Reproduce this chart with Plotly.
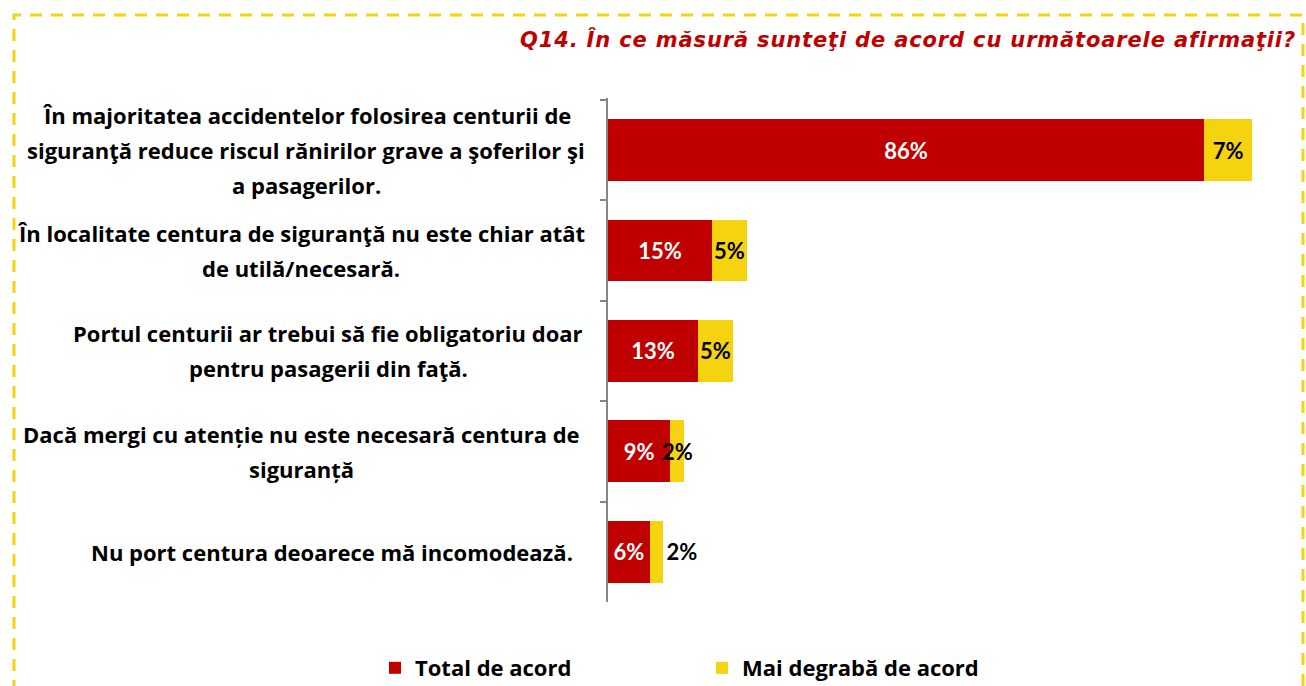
import plotly.graph_objects as go

categories = [
    "În majoritatea accidentelor folosirea centurii de\nsiguranţă reduce riscul rănirilor grave a şoferilor şi\na pasagerilor.",
    "În localitate centura de siguranţă nu este chiar atât\nde utilă/necesară.",
    "Portul centurii ar trebui să fie obligatoriu doar\npentru pasagerii din faţă.",
    "Dacă mergi cu atenție nu este necesară centura de\nsiguranță",
    "Nu port centura deoarece mă incomodează.",
]
total_acord = [86, 15, 13, 9, 6]
mai_degraba = [7, 5, 5, 2, 2]
series_names = ["Total de acord", "Mai degrabă de acord"]
title_text = "Q14. În ce măsură sunteţi de acord cu următoarele afirmaţii?"

RED = "#C00000"
YELLOW = "#F5D40F"
LABEL_FONT = "'Open Sans', 'Noto Sans', sans-serif"
NUM_FONT = "Lato, 'Open Sans', sans-serif"

W, H = 1306, 686
L, R, T, B = 608, 16, 98, 84
pw, ph = W - L - R, H - T - B

def px_x(x):
    return (x - L) / pw

def px_y(y):
    return (H - B - y) / ph

fig = go.Figure()
fig.add_trace(go.Bar(
    y=categories, x=total_acord, orientation="h", name=series_names[0],
    marker=dict(color=RED, line=dict(width=0)), width=0.615,
    text=[f"<b>{v}%</b>" for v in total_acord], textposition="inside", textangle=0,
    insidetextanchor="middle", constraintext="none",
    textfont=dict(color="white", size=22, family=NUM_FONT, weight="bold"),
))
# the smallest yellow segment's label sits just past the bar end (as in the reference)
yellow_pos = ["inside" if v + t >= 10 else "outside" for v, t in zip(mai_degraba, total_acord)]
num_font_black = dict(color="black", size=22, family=NUM_FONT, weight="bold")
fig.add_trace(go.Bar(
    y=categories, x=mai_degraba, orientation="h", name=series_names[1],
    marker=dict(color=YELLOW, line=dict(width=0)), width=0.615,
    text=[f"<b>{v}%</b>" for v in mai_degraba], textposition=yellow_pos, textangle=0,
    insidetextanchor="middle", constraintext="none", cliponaxis=False,
    textfont=num_font_black, insidetextfont=num_font_black,
    outsidetextfont=num_font_black,
))

# category labels, centred lines
centers = [306, 301, 328, 301, 332]
line_gap = 35
for cat, cx in zip(categories, centers):
    lines = cat.split("\n")
    n = len(lines)
    for i, ln in enumerate(lines):
        fig.add_annotation(
            x=px_x(cx), xref="paper", y=cat, yref="y",
            text=ln, showarrow=False, xanchor="center", yanchor="middle",
            yshift=((n - 1) / 2 - i) * line_gap,
            font=dict(size=22, color="black", family=LABEL_FONT, weight="bold"),
        )

# title
fig.add_annotation(
    x=px_x(1298), xref="paper", y=px_y(40), yref="paper",
    text=f"<span style='letter-spacing:0.85px'>{title_text}</span>",
    showarrow=False, xanchor="right", yanchor="middle",
    font=dict(size=21, color=RED, family="DejaVu Sans", style="italic", weight="bold"),
)

# dashed frame
fig.add_shape(
    type="rect", xref="paper", yref="paper",
    x0=px_x(14), x1=px_x(1303), y0=px_y(720), y1=px_y(15),
    line=dict(color=YELLOW, width=3, dash="12px,9px"), layer="below",
)

fig.update_layout(
    width=W, height=H,
    margin=dict(l=L, r=R, t=T, b=B, autoexpand=False),
    barmode="stack", bargap=0.385,
    plot_bgcolor="white", paper_bgcolor="white",
    showlegend=True,
    legend=dict(
        orientation="h", x=px_x(375), xanchor="left", y=px_y(668), yanchor="middle",
        font=dict(size=22, color="black", family=LABEL_FONT, weight="bold"),
        itemwidth=30, entrywidth=282, entrywidthmode="pixels",
        traceorder="normal", bgcolor="rgba(0,0,0,0)",
    ),
    xaxis=dict(range=[0, pw / 6.93], showgrid=False, zeroline=False,
               showticklabels=False, showline=False, ticks=""),
    yaxis=dict(autorange="reversed", showticklabels=False, showgrid=False,
               showline=True, linecolor="#868686", linewidth=1.5,
               ticks="outside", tickson="boundaries", ticklen=6,
               tickcolor="#868686", tickwidth=1.5),
)

fig.write_html("out.html", config={"displayModeBar": False},
               post_script="document.body.style.margin='0px';")
